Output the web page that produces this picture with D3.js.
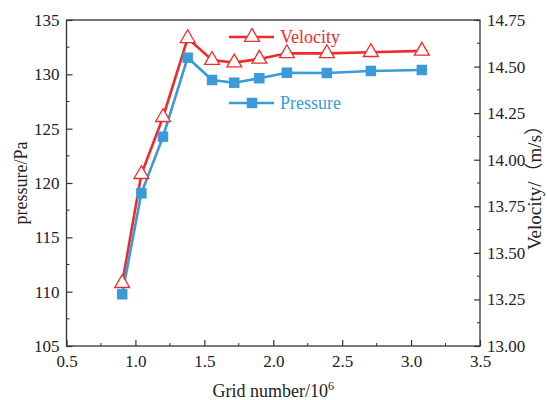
<!DOCTYPE html>
<html>
<head>
<meta charset="utf-8">
<script src="https://cdn.jsdelivr.net/npm/d3@7"></script>
<style>
  html, body { margin: 0; padding: 0; background: #fff; }
  svg { display: block; font-family: "Liberation Serif", "Times New Roman", serif; }
</style>
</head>
<body>
<svg id="chart" width="547" height="400"></svg>
<script>
const gridNumbers = [0.904, 1.043, 1.2, 1.379, 1.556, 1.717, 1.899, 2.099, 2.389, 2.708, 3.078];
const pressure = [109.76, 119.05, 124.26, 131.53, 129.48, 129.23, 129.64, 130.15, 130.12, 130.31, 130.4];
const velocity = [13.337, 13.922, 14.228, 14.652, 14.535, 14.521, 14.541, 14.571, 14.571, 14.577, 14.584];

const xTicks = [0.5, 1.0, 1.5, 2.0, 2.5, 3.0, 3.5];
const pTicks = [105, 110, 115, 120, 125, 130, 135];
const vTicks = [13.0, 13.25, 13.5, 13.75, 14.0, 14.25, 14.5, 14.75];

const RED = "#ee2b2b";
const BLUE = "#3b9ad8";
const AXIS = "#333";

const svg = d3.select("#chart");
const margin = { top: 20, right: 67, bottom: 54, left: 66.5 };
const width = 547 - margin.left - margin.right;
const height = 400 - margin.top - margin.bottom;

const x = d3.scaleLinear().domain([0.5, 3.5]).range([0, width]);
const yP = d3.scaleLinear().domain([105, 135]).range([height, 0]);
const yV = d3.scaleLinear().domain([13.0, 14.75]).range([height, 0]);

const g = svg.append("g").attr("transform", `translate(${margin.left},${margin.top})`);

const minorLen = 3, majorLen = 6;

// frame
g.append("rect")
  .attr("width", width).attr("height", height)
  .attr("fill", "none").attr("stroke", AXIS).attr("stroke-width", 1.3);

// bottom axis, ticks point inward
const xAxis = g.append("g").attr("transform", `translate(0,${height})`)
  .call(d3.axisBottom(x).tickValues(xTicks).tickFormat(d3.format(".1f")).tickSizeInner(-majorLen).tickSizeOuter(0));
xAxis.selectAll("text").attr("y", 6).attr("dy", "0.9em");
d3.range(0.75, 3.5, 0.5).forEach(v => {
  g.append("line").attr("x1", x(v)).attr("x2", x(v)).attr("y1", height).attr("y2", height - minorLen).attr("stroke", AXIS);
});

// left axis
const pAxis = g.append("g")
  .call(d3.axisLeft(yP).tickValues(pTicks).tickSizeInner(-majorLen).tickSizeOuter(0));
pAxis.selectAll("text").attr("x", -7);
d3.range(107.5, 135, 5).forEach(v => {
  g.append("line").attr("x1", 0).attr("x2", minorLen).attr("y1", yP(v)).attr("y2", yP(v)).attr("stroke", AXIS);
});

// right axis
const vAxis = g.append("g").attr("transform", `translate(${width},0)`)
  .call(d3.axisRight(yV).tickValues(vTicks).tickFormat(d3.format(".2f")).tickSizeInner(-majorLen).tickSizeOuter(0));
vAxis.selectAll("text").attr("x", 7);
d3.range(13.125, 14.75, 0.25).forEach(v => {
  g.append("line").attr("x1", width).attr("x2", width - minorLen).attr("y1", yV(v)).attr("y2", yV(v)).attr("stroke", AXIS);
});

[xAxis, pAxis, vAxis].forEach(a => {
  a.select(".domain").remove();
  a.selectAll("line").attr("stroke", AXIS).attr("stroke-width", 1.2);
  a.selectAll("text").attr("fill", "#222").style("font-size", "17px").style("font-family", "Liberation Serif, serif");
});

// axis titles
const xTitle = svg.append("text")
  .attr("x", margin.left + width / 2).attr("y", 397)
  .attr("text-anchor", "middle").attr("fill", "#222").style("font-size", "18px");
xTitle.append("tspan").text("Grid number/10");
xTitle.append("tspan").attr("dy", -7).style("font-size", "12px").text("6");

svg.append("text")
  .attr("transform", `translate(27,${margin.top + height / 2}) rotate(-90)`)
  .attr("text-anchor", "middle").attr("fill", "#222").style("font-size", "18px")
  .text("pressure/Pa");

const vTitle = svg.append("text")
  .attr("transform", `translate(541,${margin.top + height / 2}) rotate(-90)`)
  .attr("text-anchor", "middle").attr("fill", "#222").style("font-size", "19px");
vTitle.append("tspan").text("Velocity/");
vTitle.append("tspan").style("font-family", "Noto Sans CJK SC").text("（");
vTitle.append("tspan").text("m/s");
vTitle.append("tspan").style("font-family", "Noto Sans CJK SC").text("）");

// series
const vData = gridNumbers.map((d, i) => [d, velocity[i]]);
const pData = gridNumbers.map((d, i) => [d, pressure[i]]);

g.append("path").datum(vData)
  .attr("d", d3.line().x(d => x(d[0])).y(d => yV(d[1])))
  .attr("fill", "none").attr("stroke", RED).attr("stroke-width", 2.6);
g.append("path").datum(pData)
  .attr("d", d3.line().x(d => x(d[0])).y(d => yP(d[1])))
  .attr("fill", "none").attr("stroke", BLUE).attr("stroke-width", 2.6);

const tri = d3.symbol().type(d3.symbolTriangle).size(95);
const sq = d3.symbol().type(d3.symbolSquare).size(110);

g.selectAll(".tri").data(vData).join("path")
  .attr("transform", d => `translate(${x(d[0])},${yV(d[1])})`)
  .attr("d", tri).attr("fill", "#fff").attr("stroke", RED).attr("stroke-width", 1.3);
g.selectAll(".sq").data(pData).join("path")
  .attr("transform", d => `translate(${x(d[0])},${yP(d[1])})`)
  .attr("d", sq).attr("fill", BLUE);

// legend
const legend = svg.append("g");
const items = [
  { label: "Velocity", color: RED, sym: tri, fill: "#fff", y: 37 },
  { label: "Pressure", color: BLUE, sym: sq, fill: BLUE, y: 103 }
];
items.forEach(it => {
  legend.append("line").attr("x1", 229).attr("x2", 274).attr("y1", it.y).attr("y2", it.y)
    .attr("stroke", it.color).attr("stroke-width", 2.6);
  legend.append("path").attr("transform", `translate(252,${it.y})`).attr("d", it.sym)
    .attr("fill", it.fill).attr("stroke", it.fill === "#fff" ? it.color : "none").attr("stroke-width", 1.3);
  legend.append("text").attr("x", 280).attr("y", it.y + 6).attr("fill", it.color)
    .style("font-size", "18px").text(it.label);
});
</script>
</body>
</html>
